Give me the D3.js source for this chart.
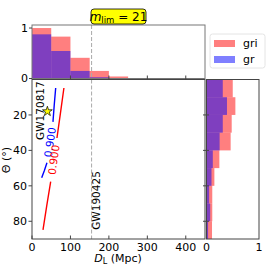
<!DOCTYPE html>
<html>
<head>
<meta charset="utf-8">
<script src="https://cdn.jsdelivr.net/npm/d3@7"></script>
<style>
  body { margin: 0; background: #fff; }
  text { font-family: "DejaVu Sans", sans-serif; fill: #000; }
</style>
</head>
<body>
<script>
// histogram of D_L, bins of 50 Mpc
var dlBins = [0, 50, 100, 150, 200, 250, 300, 350, 400];
var dlGri = [1.0, 0.83, 0.41, 0.15, 0.04, 0, 0, 0, 0];
var dlGr = [0.875, 0.545, 0.15, 0.025, 0, 0, 0, 0, 0];

// histogram of theta, bins of 10 deg
var thBins = [0, 10, 20, 30, 40, 50, 60, 70, 80];
var thGri = [0.50, 0.55, 0.48, 0.46, 0.245, 0.15, 0.11, 0.11, 0.105];
var thGr = [0.31, 0.39, 0.31, 0.25, 0.12, 0.095, 0.05, 0.07, 0.03];

// 0.900 contours (D_L, theta), split where the inline label sits
var grContour = [[[61.6, 4.8], [58, 14], [54.5, 23.9]], [[38.9, 47], [32, 51.5], [25.2, 55.5]]];
var griContour = [[[83, 4.8], [74, 19], [64.9, 33]], [[48.6, 57.6], [38.5, 71], [28.6, 84.8]]];

var events = [{name: "GW170817", d: 40, th: 18}];
var gw190425 = 155;

var xTicks = [0, 100, 200, 300, 400];
var yTicks = [20, 40, 60, 80];

var red = "rgba(255,0,0,0.5)", blue = "rgba(0,0,255,0.5)";
var spine = "#444";

var svg = d3.select("body").append("svg").attr("width", 266).attr("height", 266);

var x = d3.scaleLinear().domain([0, 450]).range([32, 205]);
var y = d3.scaleLinear().domain([0, 90]).range([79.5, 239]);
var yTop = d3.scaleLinear().domain([0, 1.06]).range([78.5, 25]);
var xRight = d3.scaleLinear().domain([0, 1]).range([206.5, 259]);

// ---- top histogram
var topG = svg.append("g");
[[dlGri, red], [dlGr, blue]].forEach(function(s) {
  topG.selectAll(null).data(dlBins).enter().append("rect")
    .attr("x", function(d) { return x(d); })
    .attr("width", x(50) - x(0))
    .attr("y", function(d, i) { return yTop(s[0][i]); })
    .attr("height", function(d, i) { return yTop(0) - yTop(s[0][i]); })
    .attr("fill", s[1]);
});
topG.append("line").attr("x1", x(gw190425)).attr("x2", x(gw190425))
  .attr("y1", 25).attr("y2", 78.5)
  .attr("stroke", "#aaa").attr("stroke-width", 1).attr("stroke-dasharray", "4,2");
topG.append("rect").attr("x", 32).attr("y", 25).attr("width", 173).attr("height", 53.5)
  .attr("fill", "none").attr("stroke", "#777").attr("stroke-width", 1);
topG.selectAll(null).data([0, 1]).enter().append("text")
  .attr("x", 28).attr("y", function(d) { return yTop(d); })
  .attr("dy", "0.36em").attr("text-anchor", "end").attr("font-size", 11)
  .text(function(d) { return d; });
topG.selectAll(null).data([0, 1]).enter().append("line")
  .attr("x1", 29).attr("x2", 32)
  .attr("y1", function(d) { return yTop(d); }).attr("y2", function(d) { return yTop(d); })
  .attr("stroke", spine);
topG.selectAll(null).data(xTicks.slice(1)).enter().append("line")
  .attr("x1", function(d) { return x(d); }).attr("x2", function(d) { return x(d); })
  .attr("y1", 75.5).attr("y2", 79.5).attr("stroke", spine).attr("stroke-width", 1);

// m_lim tag
var tag = svg.append("g");
tag.append("rect").attr("x", 91).attr("y", 9).attr("width", 55).attr("height", 15)
  .attr("rx", 3).attr("fill", "#ffff00").attr("stroke", "#000").attr("stroke-width", 0.8);
var tt = tag.append("text").attr("x", 118.5).attr("y", 20.5).attr("text-anchor", "middle").attr("font-size", 12);
tt.append("tspan").attr("font-style", "italic").text("m");
tt.append("tspan").attr("font-size", 8.5).attr("dy", 2).text("lim");
tt.append("tspan").attr("dy", -2).text(" = 21");

// ---- main panel
var main = svg.append("g");
main.append("line").attr("x1", x(gw190425)).attr("x2", x(gw190425))
  .attr("y1", 79.5).attr("y2", 239)
  .attr("stroke", "#aaa").attr("stroke-width", 1).attr("stroke-dasharray", "4,2");

var line = d3.line().x(function(d) { return x(d[0]); }).y(function(d) { return y(d[1]); });
[[grContour, "#0000ff"], [griContour, "#ff0000"]].forEach(function(c) {
  c[0].forEach(function(seg) {
    main.append("path").attr("d", line(seg)).attr("fill", "none")
      .attr("stroke", c[1]).attr("stroke-width", 1.4);
  });
  // inline label in the gap
  var a = c[0][0][c[0][0].length - 1], b = c[0][1][0];
  var cx = (x(a[0]) + x(b[0])) / 2, cy = (y(a[1]) + y(b[1])) / 2;
  var ang = Math.atan2(y(a[1]) - y(b[1]), x(a[0]) - x(b[0])) * 180 / Math.PI;
  main.append("text").attr("transform", "translate(" + cx + "," + cy + ") rotate(" + ang + ")")
    .attr("text-anchor", "middle").attr("dy", "0.36em").attr("font-size", 10.5)
    .style("fill", c[1]).text("0.900");
});

main.selectAll(null).data(events).enter().append("path")
  .attr("transform", function(d) { return "translate(" + x(d.d) + "," + y(d.th) + ")"; })
  .attr("d", d3.symbol().type(d3.symbolStar).size(30))
  .attr("fill", "#ffff00").attr("stroke", "#000").attr("stroke-width", 0.7);

main.append("text").attr("transform", "translate(" + x(31) + "," + y(34.1) + ") rotate(-90)")
  .attr("font-size", 10.5).text("GW170817");
main.append("text").attr("transform", "translate(" + x(178) + "," + y(84.8) + ") rotate(-90)")
  .attr("font-size", 10.5).text("GW190425");

main.append("rect").attr("x", 32).attr("y", 79.5).attr("width", 173).attr("height", 159.5)
  .attr("fill", "none").attr("stroke", spine).attr("stroke-width", 1);

main.selectAll(null).data(xTicks).enter().append("line")
  .attr("x1", function(d) { return x(d); }).attr("x2", function(d) { return x(d); })
  .attr("y1", 235.5).attr("y2", 239).attr("stroke", spine);
main.selectAll(null).data(xTicks).enter().append("text")
  .attr("x", function(d) { return x(d); }).attr("y", 251)
  .attr("text-anchor", "middle").attr("font-size", 11).text(function(d) { return d; });
main.selectAll(null).data(yTicks).enter().append("line")
  .attr("x1", 28.5).attr("x2", 32)
  .attr("y1", function(d) { return y(d); }).attr("y2", function(d) { return y(d); })
  .attr("stroke", spine);
main.selectAll(null).data(yTicks).enter().append("text")
  .attr("x", 27).attr("y", function(d) { return y(d); }).attr("dy", "0.36em")
  .attr("text-anchor", "end").attr("font-size", 11).text(function(d) { return d; });

var xl = main.append("text").attr("x", 118).attr("y", 262).attr("text-anchor", "middle").attr("font-size", 11);
xl.append("tspan").attr("font-style", "italic").text("D");
xl.append("tspan").attr("font-size", 8).attr("dy", 2).text("L");
xl.append("tspan").attr("dy", -2).text(" (Mpc)");
main.append("text").attr("transform", "translate(10,160) rotate(-90)")
  .attr("text-anchor", "middle").attr("font-size", 11).text("Θ (°)");

// ---- right histogram
var rightG = svg.append("g");
[[thGri, red], [thGr, blue]].forEach(function(s) {
  rightG.selectAll(null).data(thBins).enter().append("rect")
    .attr("y", function(d) { return y(d); })
    .attr("height", y(10) - y(0))
    .attr("x", xRight(0))
    .attr("width", function(d, i) { return xRight(s[0][i]) - xRight(0); })
    .attr("fill", s[1]);
});
rightG.append("rect").attr("x", 206.5).attr("y", 79.5).attr("width", 52.5).attr("height", 159.5)
  .attr("fill", "none").attr("stroke", spine).attr("stroke-width", 1);
rightG.selectAll(null).data(yTicks).enter().append("line")
  .attr("x1", 203).attr("x2", 209)
  .attr("y1", function(d) { return y(d); }).attr("y2", function(d) { return y(d); })
  .attr("stroke", spine);
rightG.selectAll(null).data([0, 1]).enter().append("text")
  .attr("x", function(d) { return xRight(d); }).attr("y", 251)
  .attr("text-anchor", "middle").attr("font-size", 11).text(function(d) { return d; });

// ---- legend
var leg = svg.append("g");
leg.append("rect").attr("x", 210).attr("y", 34).attr("width", 55).attr("height", 34).attr("rx", 2.5)
  .attr("fill", "#fff").attr("fill-opacity", 0.8).attr("stroke", "#ddd").attr("stroke-width", 0.8);
var legItems = [["gri", red], ["gr", blue]];
leg.selectAll(null).data(legItems).enter().append("rect")
  .attr("x", 214).attr("y", function(d, i) { return 40 + i * 16; })
  .attr("width", 21).attr("height", 7).attr("fill", function(d) { return d[1]; });
leg.selectAll(null).data(legItems).enter().append("text")
  .attr("x", 243).attr("y", function(d, i) { return 43.5 + i * 16; }).attr("dy", "0.36em")
  .attr("font-size", 11).text(function(d) { return d[0]; });
</script>
</body>
</html>
